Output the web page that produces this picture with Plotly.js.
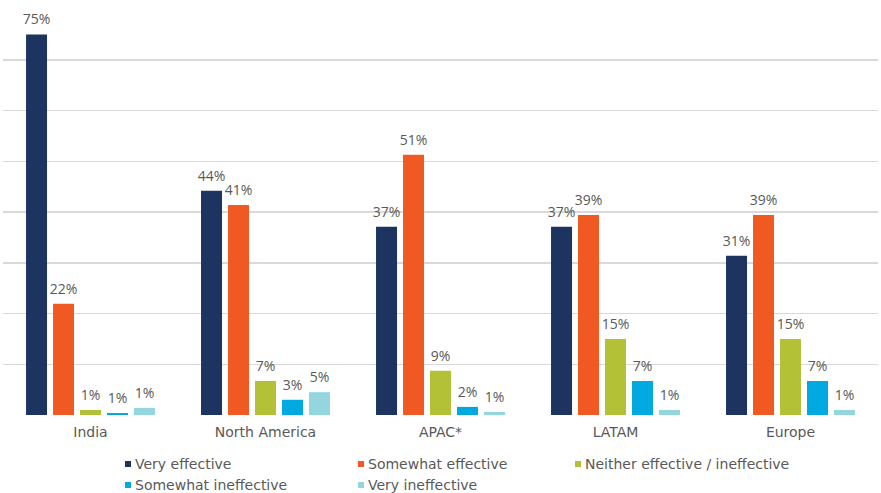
<!DOCTYPE html>
<html>
<head>
<meta charset="utf-8">
<script src="https://cdn.plot.ly/plotly-3.0.1.min.js"></script>
<style>html,body{margin:0;padding:0;background:#fff;}#chart{width:881px;height:493px;}</style>
</head>
<body>
<div id="chart"></div>
<script>
const categories = ["India", "North America", "APAC*", "LATAM", "Europe"];
const seriesNames = ["Very effective", "Somewhat effective", "Neither effective / ineffective", "Somewhat ineffective", "Very ineffective"];
const veryEffective = [75, 44.2, 37.1, 37.1, 31.4];
const somewhatEffective = [21.9, 41.4, 51.3, 39.4, 39.4];
const neither = [1.0, 6.7, 8.7, 15.0, 15.0];
const somewhatIneffective = [0.4, 3.0, 1.6, 6.7, 6.7];
const veryIneffective = [1.4, 4.5, 0.6, 1.0, 1.0];
const labelsVeryEffective = ["75%", "44%", "37%", "37%", "31%"];
const labelsSomewhatEffective = ["22%", "41%", "51%", "39%", "39%"];
const labelsNeither = ["1%", "7%", "9%", "15%", "15%"];
const labelsSomewhatIneffective = ["1%", "3%", "2%", "7%", "7%"];
const labelsVeryIneffective = ["1%", "5%", "1%", "1%", "1%"];
const yTicks = [0, 10, 20, 30, 40, 50, 60, 70, 80];

const colors = ["#1d3461", "#f05a22", "#b2c136", "#00a9e0", "#93d6e0"];
const values = [veryEffective, somewhatEffective, neither, somewhatIneffective, veryIneffective];
const labels = [labelsVeryEffective, labelsSomewhatEffective, labelsNeither, labelsSomewhatIneffective, labelsVeryIneffective];

const W = 881, H = 493;
const M = {l: 3, r: 3, t: 9, b: 78};
const pw = W - M.l - M.r, ph = H - M.t - M.b;
const px = x => (x - M.l) / pw;          // pixel -> paper x
const py = y => (H - M.b - y) / ph;      // pixel -> paper y

const labelFont = {family: "Open Sans, sans-serif", color: "#595959", size: 14};
const textFont = {family: "DejaVu Sans, sans-serif", color: "#595959", size: 14};

const data = values.map((v, i) => ({
  type: "bar",
  name: seriesNames[i],
  x: categories,
  y: v,
  text: labels[i],
  textposition: "outside",
  constraintext: "none",
  cliponaxis: false,
  textfont: labelFont,
  marker: {color: colors[i]},
  showlegend: false,
  hoverinfo: "skip"
}));

// legend layout (pixel positions of swatches)
const legendPos = [[125, 464], [358, 464], [575, 464], [125, 485], [358, 485]];
const shapes = [];
const annotations = [];
seriesNames.forEach((name, i) => {
  const [x, y] = legendPos[i];
  shapes.push({type: "rect", xref: "paper", yref: "paper",
    x0: px(x), x1: px(x + 6), y0: py(y + 3), y1: py(y - 3),
    fillcolor: colors[i], line: {width: 0}});
  annotations.push({xref: "paper", yref: "paper", x: px(x + 8), y: py(y),
    xanchor: "left", yanchor: "middle", text: name, showarrow: false,
    font: textFont});
});

const layout = {
  width: W, height: H,
  margin: M,
  paper_bgcolor: "#fff", plot_bgcolor: "#fff",
  font: textFont,
  barmode: "group",
  bargap: 0.229,
  bargroupgap: 0.222,
  xaxis: {showgrid: false, showline: false, ticks: "", tickfont: textFont, ticklabelstandoff: 7, automargin: false},
  yaxis: {range: [0, 80], tickvals: yTicks, showticklabels: false, showgrid: true, gridcolor: "#d9d9d9", gridwidth: 1.5, zeroline: false, showline: false, automargin: false},
  showlegend: false,
  shapes: shapes,
  annotations: annotations
};

Plotly.newPlot("chart", data, layout, {displayModeBar: false, staticPlot: true}).then(gd => {
  // lift the value labels a little higher above the bars, as in the reference
  gd.querySelectorAll("text.bartext").forEach(t => {
    const tr = t.getAttribute("transform") || "";
    t.setAttribute("transform", "translate(0,-3) " + tr);
  });
});
</script>
</body>
</html>
